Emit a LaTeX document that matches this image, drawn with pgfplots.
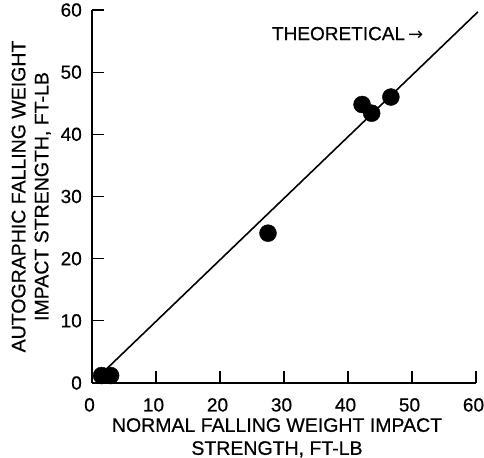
\documentclass[border=0pt]{standalone}
\usepackage{fontspec}
\setmainfont{Liberation Sans}[FakeBold=0.6]
\newfontfamily\dejavu{DejaVu Sans}
\usepackage{pgfplots}
\pgfplotsset{compat=1.18}
\begin{document}
\begin{tikzpicture}
\begin{axis}[
  name=ax,
  scale only axis,
  width=384pt, height=373pt,
  xmin=0, xmax=60, ymin=0, ymax=60,
  axis lines=left,
  axis line style={-, line width=1.4pt},
  xtick={0,10,...,60}, ytick={0,10,...,60},
  tick align=inside,
  major tick length=12pt,
  tick style={line width=1.2pt, black},
  /pgf/number format/assume math mode=true,
  ticklabel style={font=\fontsize{19}{20}\selectfont},
  xticklabel style={anchor=north, inner sep=0pt, yshift=-15pt, xshift=-2.5pt},
  yticklabel style={anchor=east, inner sep=0pt, xshift=-10pt},
  xlabel={NORMAL FALLING WEIGHT IMPACT\\STRENGTH, FT-LB},
  ylabel={AUTOGRAPHIC FALLING WEIGHT\\IMPACT STRENGTH, FT-LB},
  label style={font=\fontsize{19.5}{23}\selectfont, align=center},
  xlabel style={at={(axis description cs:0.5,0)}, anchor=north, inner sep=0pt, yshift=-35pt, xshift=-7pt},
  ylabel style={at={([xshift=-41pt]axis description cs:0,0.5)}, anchor=south, inner sep=0pt},
  clip=false,
]
\addplot[black, line width=1.6pt] coordinates {(1,1) (60.3,59.7)};
\addplot[only marks, mark=*, mark size=8.5pt, black] coordinates {
  (1.5,1.2) (2.9,1.2) (27.5,24.1) (42.2,44.8) (43.7,43.4) (46.7,46.0)
};
\node[anchor=west, inner sep=0, font=\fontsize{19}{20}\selectfont] at (axis cs:28.1,56.2) {THEORETICAL\,{\dejavu\fontsize{18}{20}\selectfont\symbol{"2192}}};
\coordinate (O) at (rel axis cs:0,0);
\coordinate (T) at (rel axis cs:1,1);
\end{axis}
\pgfresetboundingbox
\path[use as bounding box] ([shift={(-92pt,-75pt)}]O) rectangle ([shift={(8pt,10pt)}]T);
\end{tikzpicture}
\end{document}
